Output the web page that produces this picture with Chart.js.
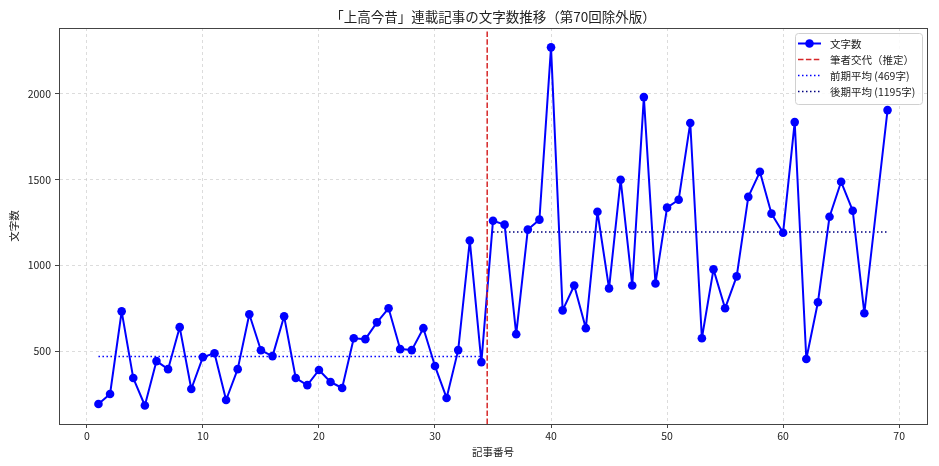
<!DOCTYPE html>
<html>
<head>
<meta charset="utf-8">
<script src="https://cdn.jsdelivr.net/npm/chart.js@4"></script>
<style>
  body { margin: 0; background: #fff; }
  #wrap { width: 939px; height: 466px; }
</style>
</head>
<body>
<div id="wrap"><canvas id="chart" width="939" height="466"></canvas></div>
<script>
// article numbers (no 68, no 70)
const articleNo = [1,2,3,4,5,6,7,8,9,10,11,12,13,14,15,16,17,18,19,20,
  21,22,23,24,25,26,27,28,29,30,31,32,33,34,35,36,37,38,39,40,
  41,42,43,44,45,46,47,48,49,50,51,52,53,54,55,56,57,58,59,60,
  61,62,63,64,65,66,67,69];
const charCount = [192,250,732,343,183,442,395,640,279,465,
  488,215,395,715,505,471,703,343,302,390,
  320,285,575,570,668,750,512,506,634,413,
  227,506,1145,436,1261,1238,599,1209,1267,2272,
  738,883,634,1313,866,1500,883,1982,895,1337,
  1383,1831,575,977,750,936,1400,1546,1302,1191,
  1836,454,785,1284,1488,1319,721,1906];
const changeAt = 34.5;
const earlyMean = 469;
const lateMean = 1195;
const xTicks = [0,10,20,30,40,50,60,70];
const yTicks = [500,1000,1500,2000];
const xRange = [-2.4, 72.4];
const yRange = [75, 2385];

const FONT = "'Noto Sans CJK JP', 'Noto Sans', sans-serif";

const mainPts = articleNo.map((n, i) => ({ x: n, y: charCount[i] }));
const early = articleNo.filter(n => n < changeAt);
const late = articleNo.filter(n => n > changeAt);

const legendItems = [
  { text: '文字数', color: '#0000ff', dash: [], width: 2, marker: true },
  { text: '筆者交代（推定）', color: '#d62728', dash: [5.5, 2.4], width: 1.5 },
  { text: '前期平均 (469字)', color: '#0000ff', dash: [1.5, 2.5], width: 1.5 },
  { text: '後期平均 (1195字)', color: '#000080', dash: [1.5, 2.5], width: 1.5 }
];

const framePlugin = {
  id: 'frame',
  afterDraw(chart) {
    const { ctx, chartArea: a } = chart;
    ctx.save();
    ctx.strokeStyle = '#444';
    ctx.lineWidth = 1;
    ctx.strokeRect(a.left + 0.5, a.top + 0.5, a.right - a.left, a.bottom - a.top);
    // title
    ctx.fillStyle = '#222';
    ctx.font = '13.5px ' + FONT;
    ctx.textAlign = 'center';
    ctx.textBaseline = 'middle';
    ctx.fillText('「上高今昔」連載記事の文字数推移（第70回除外版）', (a.left + a.right) / 2, 17);
    // legend
    const bx = 795, by = 33, bw = 127, bh = 71;
    ctx.fillStyle = 'rgba(255,255,255,0.85)';
    ctx.strokeStyle = '#d0d0d0';
    ctx.beginPath();
    ctx.roundRect(bx + 0.5, by + 0.5, bw, bh, 3);
    ctx.fill();
    ctx.stroke();
    ctx.font = '10.5px ' + FONT;
    ctx.textAlign = 'left';
    legendItems.forEach((it, i) => {
      const y = 43.5 + i * 16;
      ctx.strokeStyle = it.color;
      ctx.lineWidth = it.width;
      ctx.setLineDash(it.dash);
      ctx.beginPath();
      ctx.moveTo(798, y);
      ctx.lineTo(821, y);
      ctx.stroke();
      ctx.setLineDash([]);
      if (it.marker) {
        ctx.fillStyle = it.color;
        ctx.beginPath();
        ctx.arc(809.5, y, 4.3, 0, Math.PI * 2);
        ctx.fill();
      }
      ctx.fillStyle = '#222';
      ctx.fillText(it.text, 830, y + 0.5);
    });
    ctx.restore();
  }
};

const gridOpts = {
  color: 'rgba(200,200,200,0.8)',
  lineWidth: 0.8,
  tickColor: '#444',
  tickBorderDash: [],
  tickLength: 4,
  tickWidth: 1
};

new Chart(document.getElementById('chart'), {
  type: 'line',
  data: {
    datasets: [
      {
        label: '文字数',
        data: mainPts,
        borderColor: '#0000ff',
        backgroundColor: '#0000ff',
        borderWidth: 2,
        borderJoinStyle: 'round',
        borderCapStyle: 'round',
        pointRadius: 4.3,
        pointHoverRadius: 4.3,
        pointBorderWidth: 0,
        tension: 0,
        order: 1
      },
      {
        label: '筆者交代（推定）',
        data: [{ x: changeAt, y: yRange[0] }, { x: changeAt, y: yRange[1] }],
        borderColor: '#d62728',
        borderWidth: 1.5,
        borderDash: [5.5, 2.4],
        pointRadius: 0,
        order: 0
      },
      {
        label: '前期平均 (469字)',
        data: [{ x: early[0], y: earlyMean }, { x: early[early.length - 1], y: earlyMean }],
        borderColor: '#0000ff',
        borderWidth: 1.5,
        borderDash: [1.5, 2.5],
        pointRadius: 0,
        order: 2
      },
      {
        label: '後期平均 (1195字)',
        data: [{ x: late[0], y: lateMean }, { x: late[late.length - 1], y: lateMean }],
        borderColor: '#000080',
        borderWidth: 1.5,
        borderDash: [1.5, 2.5],
        pointRadius: 0,
        order: 2
      }
    ]
  },
  options: {
    responsive: false,
    animation: false,
    events: [],
    layout: { padding: { top: 28, right: 12, left: 0, bottom: 0 } },
    plugins: {
      legend: { display: false },
      tooltip: { enabled: false }
    },
    scales: {
      x: {
        type: 'linear',
        min: xRange[0],
        max: xRange[1],
        afterBuildTicks: s => { s.ticks = xTicks.map(v => ({ value: v })); },
        afterFit: s => { s.height = 42; },
        grid: gridOpts,
        border: { color: '#444', width: 1, dash: [3, 3] },
        ticks: { color: '#222', font: { family: FONT, size: 10.5 }, padding: 2, maxRotation: 0,
          callback: v => String(v) },
        title: { display: true, text: '記事番号', color: '#222', font: { family: FONT, size: 10.5 }, padding: { top: 0, bottom: 8 } }
      },
      y: {
        type: 'linear',
        min: yRange[0],
        max: yRange[1],
        afterBuildTicks: s => { s.ticks = yTicks.map(v => ({ value: v })); },
        afterFit: s => { s.width = 59; },
        grid: gridOpts,
        border: { color: '#444', width: 1, dash: [3, 3] },
        ticks: { color: '#222', font: { family: FONT, size: 10.5 }, padding: 4,
          callback: v => String(v) },
        title: { display: true, text: '文字数', color: '#222', font: { family: FONT, size: 10.5 }, padding: { top: 8, bottom: 0 } }
      }
    }
  },
  plugins: [framePlugin]
});
</script>
</body>
</html>
